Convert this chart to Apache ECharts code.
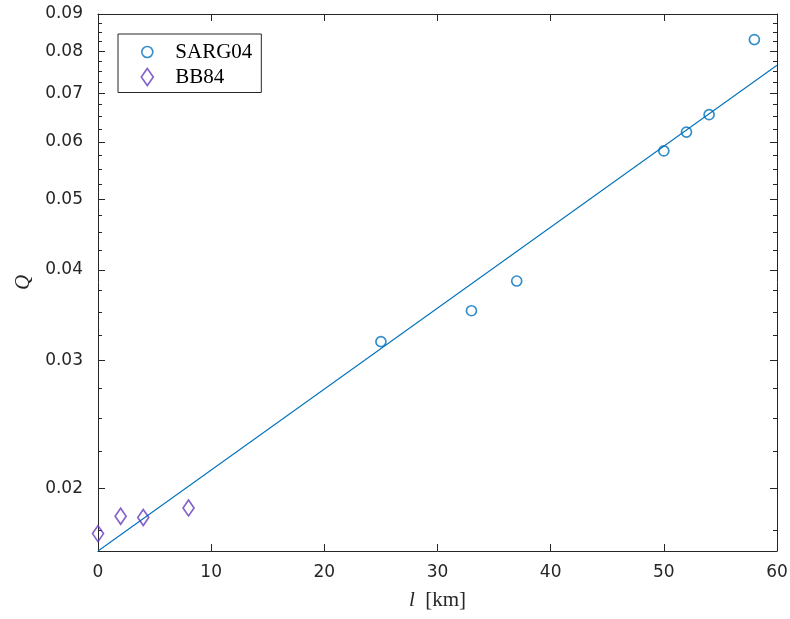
<!DOCTYPE html>
<html>
<head>
<meta charset="utf-8">
<script src="https://cdn.jsdelivr.net/npm/echarts@6/dist/echarts.min.js"></script>
<style>html,body{margin:0;padding:0;background:#fff;}#c{width:790px;height:619px;}</style>
</head>
<body>
<div id="c"></div>
<script>
// ---- data ----
const sargL = [25, 33, 37, 50, 52, 54, 58];
const sargQ = [0.03185, 0.03513, 0.0386, 0.0583, 0.0619, 0.0654, 0.0830];
const bbL = [0, 2, 4, 8];
const bbQ = [0.01733, 0.01831, 0.01824, 0.0188];
const fitL = [0, 60];
const fitQ = [0.01640, 0.0765];
const xTicks = [0, 10, 20, 30, 40, 50, 60];
const yMajor = [0.02, 0.03, 0.04, 0.05, 0.06, 0.07, 0.08, 0.09];
const yMinor = [0.0175, 0.0225, 0.025, 0.0275, 0.0325, 0.035, 0.0375, 0.0425, 0.045, 0.0475,
  0.0525, 0.055, 0.0575, 0.0625, 0.065, 0.0675, 0.0725, 0.075, 0.0775, 0.0825, 0.085, 0.0875];
const yMin = 0.0164, yMax = 0.09;

const axisCol = '#262626';
const blue = '#0072BD';
const purple = '#6439BE';
const tickFont = { fontFamily: 'DejaVu Sans', fontSize: 17, color: axisCol };

function yAx(pos, ticks, len, showLine, showLabel) {
  return {
    type: 'log', position: pos, min: yMin, max: yMax, logBase: 10,
    axisLine: { show: showLine, lineStyle: { color: axisCol, width: 1 } },
    axisTick: { show: true, inside: true, length: len, customValues: ticks, lineStyle: { color: axisCol, width: 1 } },
    axisLabel: showLabel ? Object.assign({ show: true, customValues: ticks, margin: 15,
      formatter: v => Number(v).toFixed(2) }, tickFont) : { show: false },
    minorTick: { show: false }, splitLine: { show: false }
  };
}

const chart = echarts.init(document.getElementById('c'), null, { renderer: 'canvas' });
chart.setOption({
  animation: false,
  backgroundColor: '#fff',
  grid: { left: 98, right: 13, top: 14, bottom: 68, containLabel: false, outerBoundsMode: 'none' },
  xAxis: [{
    type: 'value', position: 'bottom', min: 0, max: 60, interval: 10,
    axisLine: { show: true, onZero: false, lineStyle: { color: axisCol, width: 1 } },
    axisTick: { show: true, inside: true, length: 7, lineStyle: { color: axisCol } },
    axisLabel: Object.assign({ margin: 13 }, tickFont),
    splitLine: { show: false },
    name: '{i|l}  [km]', nameLocation: 'middle', nameGap: 39,
    nameTextStyle: { fontFamily: 'Liberation Serif', fontSize: 21, color: axisCol,
      rich: { i: { fontFamily: 'Liberation Serif', fontStyle: 'italic', fontSize: 21, color: axisCol } } }
  }, {
    type: 'value', position: 'top', min: 0, max: 60, interval: 10,
    axisLine: { show: true, onZero: false, lineStyle: { color: axisCol, width: 1 } },
    axisTick: { show: true, inside: true, length: 7, lineStyle: { color: axisCol } },
    axisLabel: { show: false }, splitLine: { show: false }
  }],
  yAxis: [
    Object.assign(yAx('left', yMajor, 7, true, true), {
      name: 'Q', nameLocation: 'middle', nameGap: 62, nameRotate: 90,
      nameTextStyle: { fontFamily: 'Liberation Serif', fontStyle: 'italic', fontSize: 21, color: axisCol }
    }),
    yAx('left', yMinor, 4, false, false),
    yAx('right', yMajor, 7, true, false),
    yAx('right', yMinor, 4, false, false)
  ],
  legend: {
    orient: 'vertical', left: 118, top: 34,
    backgroundColor: '#fff', borderColor: axisCol, borderWidth: 1, borderRadius: 0,
    padding: [7.5, 9, 5, 19.5], itemWidth: 46, itemHeight: 18, itemGap: 4,
    textStyle: { fontFamily: 'Liberation Serif', fontSize: 21, color: '#000', lineHeight: 20 },
    data: [
      { name: 'SARG04', icon: 'path://M0,0M18,18M3.5,9A5.5,5.5,0,1,1,14.5,9A5.5,5.5,0,1,1,3.5,9Z',
        itemStyle: { color: 'rgba(0,0,0,0)', borderColor: blue, borderWidth: 1.6 } },
      { name: 'BB84', icon: 'path://M0,0M18,18M9,0.5L15,9L9,17.5L3,9Z',
        itemStyle: { color: 'rgba(0,0,0,0)', borderColor: purple, borderWidth: 1.6 } }
    ]
  },
  series: [
    {
      name: 'fit', type: 'line', xAxisIndex: 0, yAxisIndex: 0,
      data: fitL.map((l, i) => [l, fitQ[i]]),
      showSymbol: false, symbol: 'none', lineStyle: { color: blue, width: 1.1 }, z: 2, silent: true
    },
    {
      name: 'SARG04', type: 'scatter', xAxisIndex: 0, yAxisIndex: 0,
      data: sargL.map((l, i) => [l, sargQ[i]]),
      symbol: 'circle', symbolSize: 10,
      itemStyle: { color: 'rgba(0,0,0,0)', borderColor: blue, borderWidth: 1.7 }, z: 3
    },
    {
      name: 'BB84', type: 'scatter', xAxisIndex: 0, yAxisIndex: 0,
      data: bbL.map((l, i) => [l, bbQ[i]]),
      symbol: 'diamond', symbolSize: [11, 16],
      itemStyle: { color: 'rgba(0,0,0,0)', borderColor: purple, borderWidth: 1.7 }, z: 3
    }
  ]
});
</script>
</body>
</html>
